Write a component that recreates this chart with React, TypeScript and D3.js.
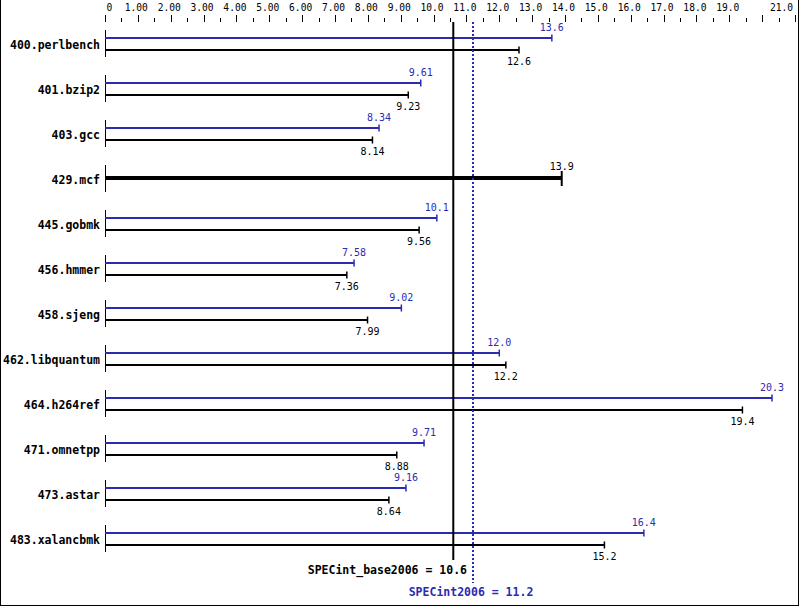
import React from "react";
import * as d3 from "d3";

const categories = [
  "400.perlbench", "401.bzip2", "403.gcc", "429.mcf", "445.gobmk", "456.hmmer",
  "458.sjeng", "462.libquantum", "464.h264ref", "471.omnetpp", "473.astar", "483.xalancbmk",
];
const peakValues: (number | null)[] = [13.6, 9.61, 8.34, null, 10.1, 7.58, 9.02, 12.0, 20.3, 9.71, 9.16, 16.4];
const baseValues: number[] = [12.6, 9.23, 8.14, 13.9, 9.56, 7.36, 7.99, 12.2, 19.4, 8.88, 8.64, 15.2];
const majorTicks = d3.range(0, 22, 1);
const minorTicks = d3.range(0.5, 21, 1);
const tickLabels = ["0", "1.00", "2.00", "3.00", "4.00", "5.00", "6.00", "7.00", "8.00", "9.00",
  "10.0", "11.0", "12.0", "13.0", "14.0", "15.0", "16.0", "17.0", "18.0", "19.0", "", "21.0"];
const baseScore = 10.6;
const peakScore = 11.2;

const W = 799, H = 606;
const BLUE = "#2b2bb0";
const MONO = "'DejaVu Sans Mono', 'Liberation Mono', monospace";

export default function App() {
  const x = d3.scaleLinear().domain([0, 21]).range([105, 795]);
  const y = d3.scaleBand<string>().domain(categories).range([21.5, 561.5]);
  const fmt = d3.format(".3r");
  const cy = (c: string) => (y(c) as number) + y.bandwidth() / 2;

  return (
    <div style={{ position: "absolute", left: 0, top: 0 }}>
      <svg width={W} height={H} style={{ display: "block", background: "#fff" }}>
        {/* border */}
        <line x1={0.5} y1={0} x2={0.5} y2={H} stroke="#000" />
        <line x1={W - 0.5} y1={0} x2={W - 0.5} y2={H} stroke="#000" />
        <line x1={0} y1={H - 0.5} x2={W} y2={H - 0.5} stroke="#000" />

        {/* top axis */}
        {majorTicks.map((t) => (
          <line key={"M" + t} x1={Math.round(x(t)) + 0.5} x2={Math.round(x(t)) + 0.5} y1={15} y2={22} stroke="#000" />
        ))}
        {minorTicks.map((t) => (
          <line key={"m" + t} x1={Math.round(x(t)) + 0.5} x2={Math.round(x(t)) + 0.5} y1={18} y2={22} stroke="#000" />
        ))}
        {majorTicks.map((t, i) => {
          const lab = tickLabels[i];
          if (!lab) return null;
          const anchor = i === 0 ? "start" : i === majorTicks.length - 1 ? "end" : "middle";
          const xx = i === 0 ? x(t) + 1.5 : i === majorTicks.length - 1 ? x(t) - 2 : x(t) - 1.5;
          return (
            <text key={"l" + t} x={xx} y={11} fontFamily={MONO} fontSize={9.6} textAnchor={anchor} fill="#000">
              {lab}
            </text>
          );
        })}

        {/* rows */}
        {categories.map((c, i) => {
          const c0 = cy(c);
          const pv = peakValues[i];
          const bv = baseValues[i];
          const single = pv === null;
          const yb = single ? c0 - 1 : c0 - 6;
          const yk = single ? c0 - 1 : c0 + 6;
          return (
            <g key={c}>
              <text x={100} y={c0 + 5} textAnchor="end" fontFamily={MONO} fontWeight="bold" fontSize={11.5} fill="#000">
                {c}
              </text>
              <line x1={105.5} x2={105.5} y1={c0 - 14} y2={c0 + 13} stroke="#000" />
              {pv !== null && (
                <g>
                  <line x1={105} x2={x(pv)} y1={yb} y2={yb} stroke={BLUE} strokeWidth={2} />
                  <line x1={x(pv)} x2={x(pv)} y1={yb - 3.5} y2={yb + 3.5} stroke={BLUE} strokeWidth={1.5} />
                  <text x={x(pv)} y={yb - 7} textAnchor="middle" fontFamily={MONO} fontSize={10} fill={BLUE}>
                    {fmt(pv)}
                  </text>
                </g>
              )}
              {single ? (
                <g>
                  <line x1={105} x2={x(bv)} y1={yk} y2={yk} stroke="#000" strokeWidth={4} />
                  <line x1={x(bv)} x2={x(bv)} y1={yk - 7} y2={yk + 8} stroke="#000" strokeWidth={2} />
                  <text x={x(bv)} y={yk - 8} textAnchor="middle" fontFamily={MONO} fontSize={10} fill="#000">
                    {fmt(bv)}
                  </text>
                </g>
              ) : (
                <g>
                  <line x1={105} x2={x(bv)} y1={yk} y2={yk} stroke="#000" strokeWidth={2} />
                  <line x1={x(bv)} x2={x(bv)} y1={yk - 3.5} y2={yk + 3.5} stroke="#000" strokeWidth={1.5} />
                  <text x={x(bv)} y={yk + 15} textAnchor="middle" fontFamily={MONO} fontSize={10} fill="#000">
                    {fmt(bv)}
                  </text>
                </g>
              )}
            </g>
          );
        })}

        {/* reference lines */}
        <line x1={x(baseScore)} x2={x(baseScore)} y1={22} y2={560} stroke="#000" strokeWidth={2} />
        <line x1={x(peakScore)} x2={x(peakScore)} y1={22} y2={583} stroke={BLUE} strokeWidth={2} strokeDasharray="2,2" />
        <text x={x(peakScore) - 6} y={574} textAnchor="end" fontFamily={MONO} fontWeight="bold" fontSize={11.5} fill="#000">
          {`SPECint_base2006 = ${baseScore}`}
        </text>
        <text x={x(peakScore) - 2} y={596} textAnchor="middle" fontFamily={MONO} fontWeight="bold" fontSize={11.5} fill={BLUE}>
          {`SPECint2006 = ${peakScore}`}
        </text>
      </svg>
    </div>
  );
}
